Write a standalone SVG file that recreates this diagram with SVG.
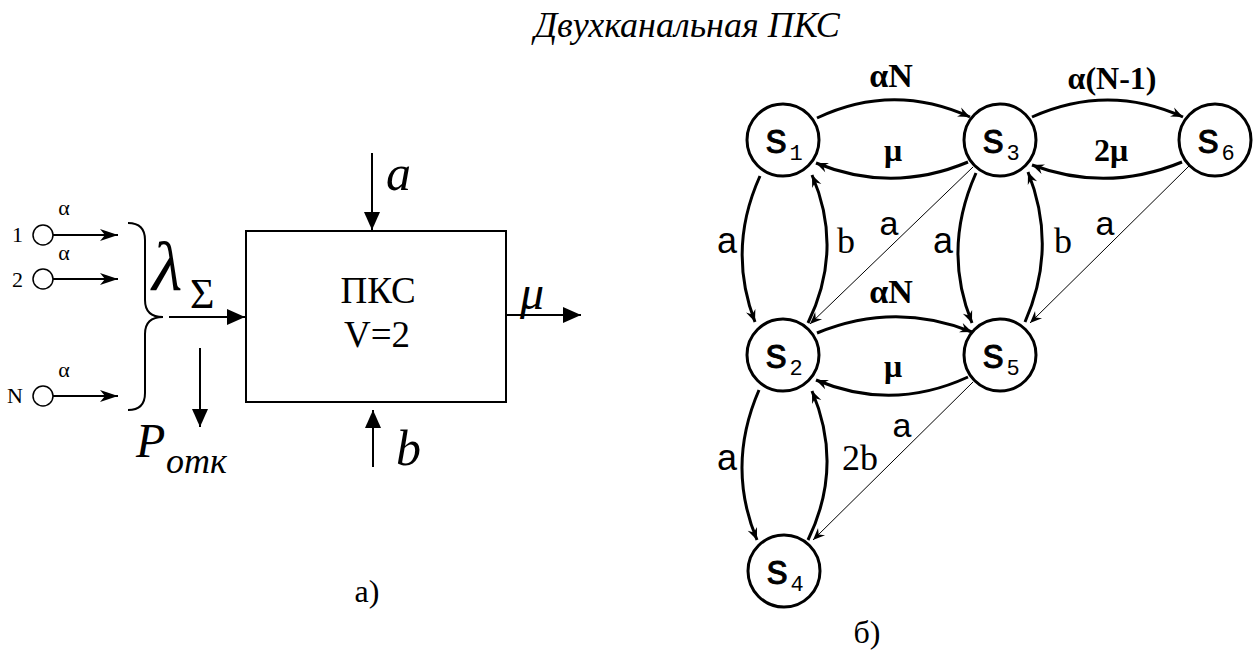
<svg xmlns="http://www.w3.org/2000/svg" width="1255" height="658" viewBox="0 0 1255 658">
<style>
.ser{font-family:"Liberation Serif","Times New Roman",serif;fill:#000}
.it{font-style:italic}
.bd{font-weight:bold}
.san{font-family:"Liberation Sans",Arial,sans-serif;fill:#000}
.mono{font-family:"Liberation Mono","Courier New",monospace;fill:#000}
.node circle{fill:#fff;stroke:#000;stroke-width:3}
.thick{fill:none;stroke:#000;stroke-width:3}
.thin{fill:none;stroke:#000;stroke-width:1}
.ln{fill:none;stroke:#000;stroke-width:2}
</style>
<defs>
<marker id="tri" markerUnits="userSpaceOnUse" viewBox="-19 -9 20 18" refX="0" refY="0" markerWidth="20" markerHeight="18" orient="auto">
<path d="M0,0 L-18,-8 L-18,8 Z" fill="#000"/>
</marker>
<marker id="stl" markerUnits="userSpaceOnUse" viewBox="-19 -7 20 14" refX="0" refY="0" markerWidth="20" markerHeight="14" orient="auto">
<path d="M0,0 L-18,-6 L-13,0 L-18,6 Z" fill="#000"/>
</marker>
<marker id="sm" markerUnits="userSpaceOnUse" viewBox="-13 -6 14 12" refX="0" refY="0" markerWidth="14" markerHeight="12" orient="auto">
<path d="M0,0 L-12,-5 L-8,0 L-12,5 Z" fill="#000"/>
</marker>
</defs>

<text class="ser it" x="687" y="37" text-anchor="middle" font-size="36">Двухканальная ПКС</text>

<!-- Left diagram a) -->
<g id="sources">
<circle cx="43" cy="235" r="10" fill="#fff" stroke="#000" stroke-width="1.5"/>
<circle cx="43" cy="279" r="10" fill="#fff" stroke="#000" stroke-width="1.5"/>
<circle cx="43" cy="396" r="10" fill="#fff" stroke="#000" stroke-width="1.5"/>
<text class="ser" x="12" y="242" font-size="22">1</text>
<text class="ser" x="12" y="287" font-size="22">2</text>
<text class="ser" x="7" y="403" font-size="22">N</text>
<text class="ser" x="64" y="215" font-size="22" text-anchor="middle">α</text>
<text class="ser" x="64" y="260" font-size="22" text-anchor="middle">α</text>
<text class="ser" x="64" y="377" font-size="22" text-anchor="middle">α</text>
</g>
<g id="brace">
<path class="ln" d="M128,223 Q145,223 145,240 L145,300 Q145,317 163,317 Q145,317 145,334 L145,393 Q145,410 128,410"/>
</g>
<g id="pks">
<rect x="246" y="231" width="260" height="171" fill="#fff" stroke="#000" stroke-width="2"/>
<text class="ser" x="378" y="303" font-size="37" text-anchor="middle">ПКС</text>
<text class="ser" x="377" y="347" font-size="37" text-anchor="middle">V=2</text>
</g>
<g id="left-connectors">
<line class="ln" x1="53" y1="235" x2="118" y2="235" marker-end="url(#stl)"/>
<line class="ln" x1="53" y1="279" x2="118" y2="279" marker-end="url(#stl)"/>
<line class="ln" x1="53" y1="396" x2="118" y2="396" marker-end="url(#stl)"/>
<line class="ln" x1="169" y1="317" x2="245" y2="317" marker-end="url(#tri)"/>
<line class="ln" x1="200" y1="348" x2="200" y2="427" marker-end="url(#tri)"/>
<line class="ln" x1="372" y1="153" x2="372" y2="230" marker-end="url(#tri)"/>
<line class="ln" x1="373" y1="467" x2="373" y2="410" marker-end="url(#tri)"/>
<line class="ln" x1="506" y1="315" x2="581" y2="315" marker-end="url(#tri)"/>
</g>
<g id="left-labels">
<text class="ser it" x="152" y="290" font-size="70">λ</text>
<text class="ser" x="190" y="308" font-size="42">Σ</text>
<text class="ser it" x="136" y="457" font-size="48">P</text>
<text class="ser it" x="166" y="473" font-size="36">отк</text>
<text class="ser it" x="386" y="190" font-size="50">a</text>
<text class="ser it" x="396" y="465" font-size="50">b</text>
<text class="ser it" x="520" y="309" font-size="48">μ</text>
<text class="ser" x="367" y="602" font-size="32" text-anchor="middle">а)</text>
</g>

<!-- Right diagram б) -->
<g id="connectors">
<path class="thick" d="M817,118 Q893,82 970,117" marker-end="url(#sm)"/>
<path class="thick" d="M968,162 Q892,194 816,163" marker-end="url(#sm)"/>
<path class="thick" d="M1032,117 Q1108,83 1183,117" marker-end="url(#sm)"/>
<path class="thick" d="M1182,162 Q1107,193 1032,165" marker-end="url(#sm)"/>
<path class="thick" d="M817,333 Q895,301 972,332" marker-end="url(#sm)"/>
<path class="thick" d="M968,377 Q892,412 816,380" marker-end="url(#sm)"/>
<path class="thick" d="M808,323 Q844,249 812,175" marker-end="url(#sm)"/>
<path class="thick" d="M760,176 Q727,249 755,322" marker-end="url(#sm)"/>
<path class="thick" d="M976,173 Q942,249 972,323" marker-end="url(#sm)"/>
<path class="thick" d="M1025,322 Q1058,247 1028,172" marker-end="url(#sm)"/>
<path class="thick" d="M759,390 Q726,466 757,540" marker-end="url(#sm)"/>
<path class="thick" d="M808,540 Q844,466 812,391" marker-end="url(#sm)"/>
<path class="thin" d="M973,167 L810,324" marker-end="url(#sm)"/>
<path class="thin" d="M1189,166 L1030,323" marker-end="url(#sm)"/>
<path class="thin" d="M973,382 L813,540" marker-end="url(#sm)"/>
</g>
<g id="node-s1" class="node">
<circle cx="783" cy="140" r="36"/>
<text class="mono" x="776" y="153" font-size="42" text-anchor="middle" stroke="#000" stroke-width="0.8">s</text>
<text class="mono" x="796" y="160" font-size="22" text-anchor="middle">1</text>
</g>
<g id="node-s3" class="node">
<circle cx="1000" cy="140" r="36"/>
<text class="mono" x="993" y="153" font-size="42" text-anchor="middle" stroke="#000" stroke-width="0.8">s</text>
<text class="mono" x="1013" y="160" font-size="22" text-anchor="middle">3</text>
</g>
<g id="node-s6" class="node">
<circle cx="1215" cy="140" r="36"/>
<text class="mono" x="1208" y="153" font-size="42" text-anchor="middle" stroke="#000" stroke-width="0.8">s</text>
<text class="mono" x="1228" y="160" font-size="22" text-anchor="middle">6</text>
</g>
<g id="node-s2" class="node">
<circle cx="783" cy="355" r="36"/>
<text class="mono" x="776" y="368" font-size="42" text-anchor="middle" stroke="#000" stroke-width="0.8">s</text>
<text class="mono" x="796" y="375" font-size="22" text-anchor="middle">2</text>
</g>
<g id="node-s5" class="node">
<circle cx="1000" cy="355" r="36"/>
<text class="mono" x="993" y="368" font-size="42" text-anchor="middle" stroke="#000" stroke-width="0.8">s</text>
<text class="mono" x="1013" y="375" font-size="22" text-anchor="middle">5</text>
</g>
<g id="node-s4" class="node">
<circle cx="784" cy="571" r="36"/>
<text class="mono" x="777" y="584" font-size="42" text-anchor="middle" stroke="#000" stroke-width="0.8">s</text>
<text class="mono" x="797" y="591" font-size="22" text-anchor="middle">4</text>
</g>
<g id="edge-labels">
<text class="ser bd" x="891" y="87" font-size="34" text-anchor="middle">αN</text>
<text class="ser bd" x="893" y="161" font-size="32" text-anchor="middle">μ</text>
<text class="ser bd" x="1112" y="89" font-size="32" text-anchor="middle">α(N-1)</text>
<text class="ser bd" x="1111" y="161" font-size="32" text-anchor="middle">2μ</text>
<text class="ser bd" x="891" y="303" font-size="34" text-anchor="middle">αN</text>
<text class="ser bd" x="893" y="377" font-size="32" text-anchor="middle">μ</text>
<text class="san" x="727" y="253" font-size="36" text-anchor="middle">a</text>
<text class="ser" x="846" y="253" font-size="36" text-anchor="middle">b</text>
<text class="san" x="889" y="235" font-size="34" text-anchor="middle">a</text>
<text class="san" x="943" y="253" font-size="36" text-anchor="middle">a</text>
<text class="ser" x="1063" y="253" font-size="36" text-anchor="middle">b</text>
<text class="san" x="1105" y="235" font-size="34" text-anchor="middle">a</text>
<text class="san" x="727" y="470" font-size="36" text-anchor="middle">a</text>
<text class="ser" x="860" y="470" font-size="36" text-anchor="middle">2b</text>
<text class="san" x="902" y="437" font-size="34" text-anchor="middle">a</text>
<text class="ser" x="867" y="643" font-size="32" text-anchor="middle">б)</text>
</g>
</svg>
